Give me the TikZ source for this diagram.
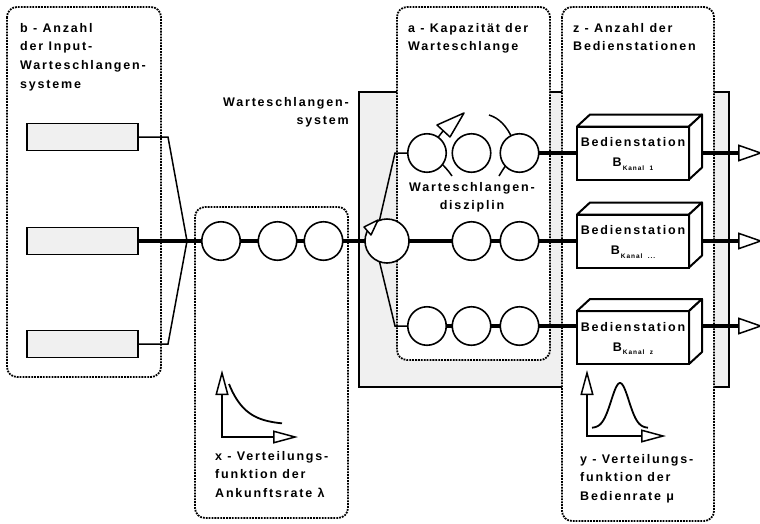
\documentclass[tikz,border=0pt]{standalone}
\usepackage{fontspec}
\setmainfont{Liberation Sans}[LetterSpace=14.5]
\usetikzlibrary{arrows.meta}
\definecolor{lgray}{RGB}{240,240,240}
\newcommand\kanalsub[1]{\raisebox{-3.5pt}{\fontsize{6.5}{7}\selectfont\,Kanal\ \ #1}}
\newcommand\cubefaces[1]{%
  \coordinate (#1nwb) at ([shift={(13,-12)}]#1.north west);
  \coordinate (#1neb) at ([shift={(13,-12)}]#1.north east);
  \coordinate (#1seb) at ([shift={(13,-12)}]#1.south east);
  \draw[boxline,fill=white,line join=round] (#1.north west) -- (#1nwb) -- (#1neb) -- (#1.north east) -- cycle;
  \draw[boxline,fill=white,line join=round] (#1.north east) -- (#1neb) -- (#1seb) -- (#1.south east) -- cycle;}
\tikzset{
  outtri/.tip={Triangle[open,length=25pt,width=17pt,line width=1.5pt]},
  axtri/.tip={Triangle[open,length=25pt,width=13pt,line width=1.5pt]}
}
\begin{document}
\begin{tikzpicture}[x=1pt,y=-1pt,
  dotbox/.style={draw,fill=white,line width=1.8pt,dash pattern=on 1.8pt off 1.1pt,rounded corners=10pt},
  sysbox/.style={draw,fill=lgray,line width=1.5pt},
  queue/.style={circle,draw,fill=white,line width=1.6pt,minimum size=38.5pt,inner sep=0pt,outer sep=0pt},
  inbox/.style={draw,fill=lgray,line width=1.6pt,minimum width=111pt,minimum height=27pt,inner sep=0pt,outer sep=0pt},
  boxline/.style={line width=2pt},
  station/.style={boxline,draw,fill=white,minimum width=112pt,minimum height=53pt,inner sep=0pt,outer sep=0pt,align=center,font=\bfseries\fontsize{12.5}{20}\selectfont},
  thk/.style={line width=3.2pt},
  thn/.style={line width=1.5pt},
  axis/.style={line width=1.8pt},
  lbl/.style={inner sep=0pt,anchor=north west,align=left,font=\bfseries\fontsize{12.5}{18.7}\selectfont}]
\useasboundingbox[fill=white] (0,0) rectangle (760,523);

% system rectangle and dotted frames
\draw[sysbox] (359,92) rectangle (729,387);
\draw[dotbox] (7,7) rectangle (161,377);
\draw[dotbox] (195,207) rectangle (348,518);
\draw[dotbox] (397,7) rectangle (550,360);
\draw[dotbox] (562,7) rectangle (714,521);

% rotation arcs of the queue discipline
\draw[thn] (489,115) .. controls (499,118) and (507,126) .. (513,140);
\draw[thn] (438,160) .. controls (444,166) and (448,170) .. (452,176);
\draw[thn] (510,160) .. controls (505,166) and (502,171) .. (499,176);
\draw[thn] (436,140) -- (443,131);

% input systems
\node[inbox] (in1) at (82.5,137) {};
\node[inbox] (in2) at (82.5,241) {};
\node[inbox] (in3) at (82.5,344) {};
\coordinate (cv) at (187,241);

% queues
\node[queue] (q01) at (221,241) {};
\node[queue] (q02) at (277.5,241) {};
\node[queue] (q03) at (323.5,241) {};
\node[queue,minimum size=44pt] (qb) at (387,241) {};
\node[queue] (q11) at (427,153) {};
\node[queue] (q12) at (471.5,153) {};
\node[queue] (q13) at (519.5,153) {};
\node[queue] (q22) at (471.5,241) {};
\node[queue] (q23) at (519.5,241) {};
\node[queue] (q31) at (427,326) {};
\node[queue] (q32) at (471.5,326) {};
\node[queue] (q33) at (519.5,326) {};
\coordinate (bu) at (395,153);
\coordinate (bl) at (395,326);

% service stations
\node[station] (s1) at (633,153) {\rule{0pt}{11.5pt}Bedienstation\\B\kanalsub{1}};
\cubefaces{s1}
\node[station] (s2) at (633,241) {\rule{0pt}{11.5pt}Bedienstation\\B\kanalsub{...}};
\cubefaces{s2}
\node[station] (s3) at (633,337.5) {\rule{0pt}{11.5pt}Bedienstation\\B\kanalsub{z}};
\cubefaces{s3}
\coordinate (e1) at ([xshift=13pt]s1.east);
\coordinate (e2) at ([xshift=13pt]s2.east);
\coordinate (e3) at (702,326);
\coordinate (out1) at (763,153);
\coordinate (out2) at (763,241);
\coordinate (out3) at (763,326);

% connectors
\draw[thn] (in1.east) -- ++(30,0) -- (cv);
\draw[thn] (in3.east) -- ++(30,0) -- (cv);
\draw[thk] (in2.east) -- (q01.west) (q01.east) -- (q02.west) (q02.east) -- (q03.west)
  (q03.east) -- (qb.west) (qb.east) -- (q22.west) (q22.east) -- (q23.west) (q23.east) -- (s2.west);
\draw[thn] (qb.110) -- (bu) -- (q11.west);
\draw[thn] (qb.250) -- (bl) -- (q31.west);
\draw[thk] (q13.east) -- (s1.west);
\draw[thk] (q31.east) -- (q32.west) (q32.east) -- (q33.west) (q33.east) -- (q33.east -| s3.west);
\draw[thk,-outtri] (e1) -- (out1);
\draw[thk,-outtri] (e2) -- (out2);
\draw[thk,-outtri] (e3) -- (out3);

% switch arrows
\draw[thn,fill=white,line join=round] (364,227) -- (371,235) -- (378,220) -- cycle;
\draw[thn,fill=white,line join=round] (437,125) -- (450,137) -- (464,113) -- cycle;

% distribution functions
\draw[axis,axtri-axtri] (222,370) -- (222,437) -- (298,437);
\draw[axis] plot[domain=0:1,samples=40] ({229+53*\x},{425-41*exp(-3.2*\x)});
\draw[axis,axtri-axtri] (587,370) -- (587,436) -- (666,436);
\draw[axis] plot[domain=-1:1,samples=50] ({620+28*\x},{428-45*exp(-5*(\x)^2)});

% labels
\node[lbl] (tb) at (20,23) {b - Anzahl\\der Input-\\Warteschlangen-\\systeme};
\node[lbl] (ta) at (408,23) {a - Kapazität der\\Warteschlange};
\node[lbl] (tz) at (573,23) {z - Anzahl der\\Bedienstationen};
\node[lbl,anchor=north east,align=right] (tsys) at (349,97) {Warteschlangen-\\system};
\node[lbl,anchor=north,align=center] (tdis) at (472,182) {Warteschlangen-\\disziplin};
\node[lbl] (tx) at (215,451) {x - Verteilungs-\\funktion der\\Ankunftsrate λ};
\node[lbl] (ty) at (580,454) {y - Verteilungs-\\funktion der\\Bedienrate μ};
\end{tikzpicture}
\end{document}
